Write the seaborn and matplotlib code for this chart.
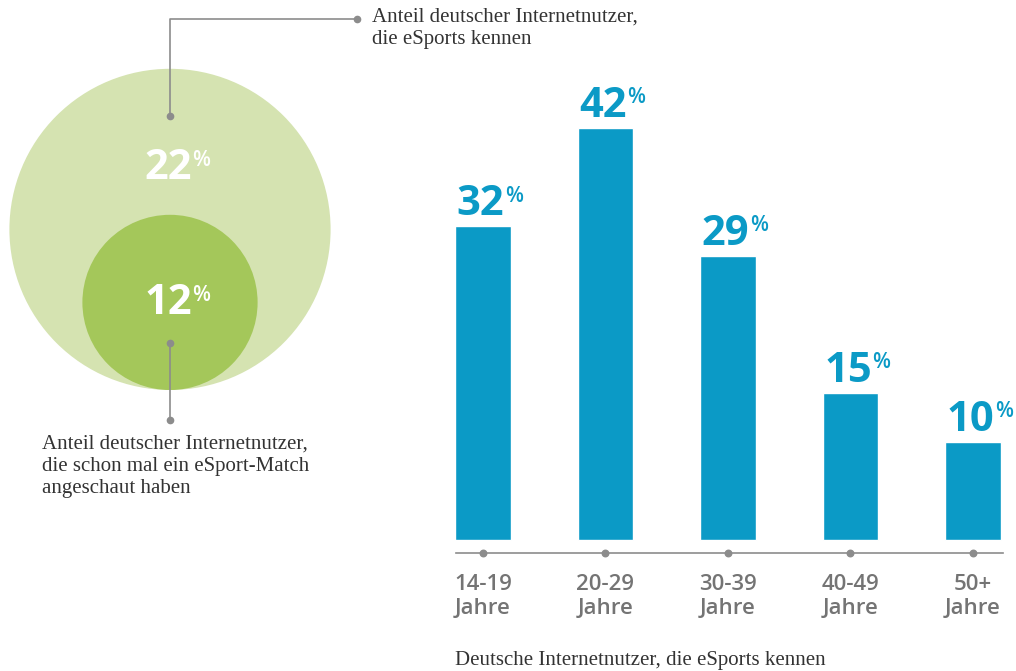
"""
plot.py - eSports awareness among German internet users (circles + bar chart by age).
"""

import matplotlib.pyplot as plt
import seaborn as sns
from matplotlib.patches import Circle

# === DATA ===
age_groups = ['14-19', '20-29', '30-39', '40-49', '50+']
shares = [32, 42, 29, 15, 10]
tick_labels = [f'{a}\nJahre' for a in age_groups]
known_share = 22     # kennen eSports
watched_share = 12   # schon mal ein Match angeschaut

label_known = 'Anteil deutscher Internetnutzer,\ndie eSports kennen'
label_watched = 'Anteil deutscher Internetnutzer,\ndie schon mal ein eSport-Match\nangeschaut haben'
caption = 'Deutsche Internetnutzer, die eSports kennen'

# === STYLE ===
BLUE = '#0b9ac6'
LIGHT_GREEN = '#d5e3b1'
GREEN = '#a4c75a'
GRAY_LINE = '#8c8c8c'
GRAY_TEXT = '#747474'
SERIF = ['Liberation Serif', 'DejaVu Serif']

sns.set_theme(style='white')
plt.rcParams['font.family'] = ['Open Sans', 'DejaVu Sans']

W, H = 1016, 671
fig = plt.figure(figsize=(W / 100, H / 100), dpi=100)


def pct_label(ax, x, y, value, color):
    t = ax.text(x, y, str(value), ha='center', va='baseline',
                fontsize=30, fontweight='bold', color=color)
    ax.annotate('%', xy=(1, 1), xycoords=t, xytext=(0.5, -1),
                textcoords='offset points', ha='left', va='top',
                fontsize=15, fontweight='semibold', color=color)


# === LEFT: CIRCLES (pixel coordinates) ===
ov = fig.add_axes([0, 0, 1, 1])
ov.set_xlim(0, W)
ov.set_ylim(H, 0)
ov.axis('off')

px_per_pct = 7.3
cx, base_y = 170, 390
r_big = known_share * px_per_pct
r_small = watched_share * px_per_pct
cy_big = base_y - r_big
cy_small = base_y - r_small
ov.add_patch(Circle((cx, cy_big), r_big, color=LIGHT_GREEN, lw=0))
ov.add_patch(Circle((cx, cy_small), r_small, color=GREEN, lw=0))

pct_label(ov, cx - 2, cy_big - 50, known_share, 'white')
pct_label(ov, cx - 2, cy_small + 12, watched_share, 'white')

# connectors
ov.plot([cx, cx, 357], [cy_big - 113, 19, 19], color=GRAY_LINE, lw=1.2)
ov.plot([cx, 357], [cy_big - 113, 19], 'o', color=GRAY_LINE, ms=4.5, lw=0)
ov.plot([cx, cx], [cy_small + 41, 420], color=GRAY_LINE, lw=1.2)
ov.plot([cx, cx], [cy_small + 41, 420], 'o', color=GRAY_LINE, ms=4.5, lw=0)

ov.text(372, 8, label_known, ha='left', va='top', fontsize=15,
        family=SERIF, color='#333333', linespacing=1.2)
ov.text(42, 435, label_watched, ha='left', va='top', fontsize=15,
        family=SERIF, color='#333333', linespacing=1.2)
ov.text(455, 660, caption, ha='left', va='center', fontsize=15,
        family=SERIF, color='#333333')

# === RIGHT: BARS ===
ax = fig.add_axes([456 / W, (H - 553) / H, 547 / W, (553 - 80) / H])
ax.patch.set_alpha(0)
sns.barplot(x=age_groups, y=shares, color=BLUE, saturation=1, width=0.45, ax=ax)
ax.set_xlim(-0.22, 4.245)
ax.set_ylim(-1.33, 46.9)
ax.set_xlabel('')
ax.set_ylabel('')
ax.set_yticks([])
ax.set_xticks(range(len(age_groups)))
ax.set_xticklabels(tick_labels, fontweight='semibold')
ax.tick_params(axis='x', length=0, pad=15, labelsize=16, labelcolor=GRAY_TEXT)
sns.despine(ax=ax, left=True)
ax.spines['bottom'].set_color(GRAY_LINE)
ax.spines['bottom'].set_linewidth(1.2)
ax.scatter(range(len(age_groups)), [ax.get_ylim()[0]] * len(age_groups),
           s=22, color=GRAY_LINE, clip_on=False, zorder=3)

for i, v in enumerate(shares):
    pct_label(ax, i - 0.02, v + 1.12, v, BLUE)

fig.savefig('out.png', dpi=100)
